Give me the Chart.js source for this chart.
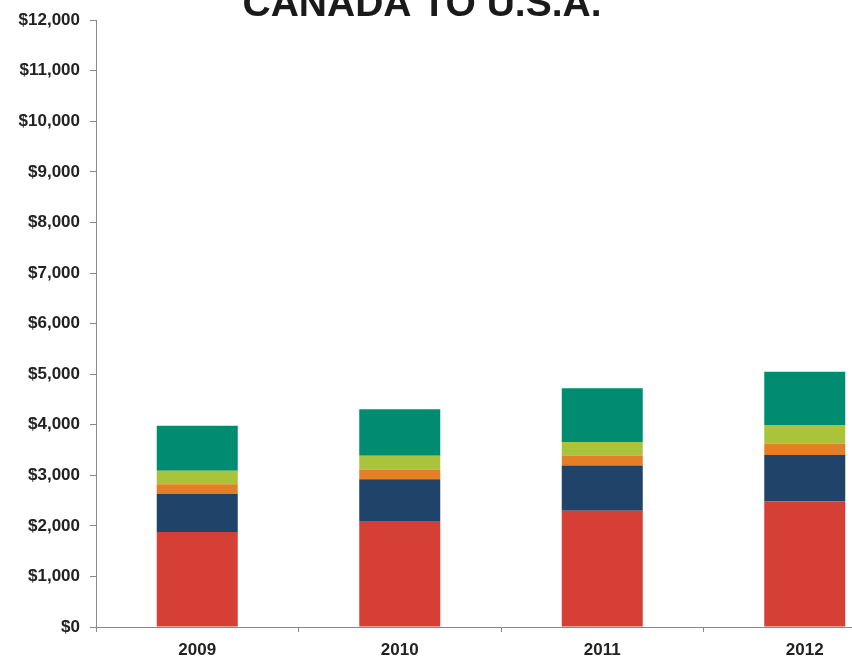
<!DOCTYPE html>
<html>
<head>
<meta charset="utf-8">
<script src="https://cdn.jsdelivr.net/npm/chart.js@4"></script>
<style>
  html, body { margin: 0; padding: 0; background: #fff; overflow: hidden; }
  #wrap { width: 852px; height: 660px; overflow: hidden; }
</style>
</head>
<body>
<div id="wrap"><canvas id="tradeChart" width="920" height="660"></canvas></div>
<script>
const years = ['2009', '2010', '2011', '2012'];
const seriesA = [1880, 2080, 2300, 2480];
const seriesB = [750, 840, 895, 920];
const seriesC = [195, 195, 195, 230];
const seriesD = [265, 270, 270, 365];
const seriesE = [890, 920, 1060, 1055];
const yTicks = [0, 1000, 2000, 3000, 4000, 5000, 6000, 7000, 8000, 9000, 10000, 11000, 12000];

const labelFont = { family: "'Liberation Sans', Arial, sans-serif", size: 17, weight: 'bold' };

// title sits partly above the canvas, as in the source image
const titlePlugin = {
    id: 'cutTitle',
    afterDraw(chart) {
        const ctx = chart.ctx;
        ctx.save();
        ctx.font = "bold 39px 'Liberation Sans', Arial, sans-serif";
        ctx.fillStyle = '#1a1a1a';
        ctx.textAlign = 'center';
        ctx.textBaseline = 'alphabetic';
        ctx.fillText('CANADA TO U.S.A.', 422, 16);
        ctx.restore();
    }
};

const tradeChart = new Chart(
    document.getElementById('tradeChart'),
    {
        type: 'bar',
        data: {
            labels: years,
            datasets: [
                { label: 'Series A', data: seriesA, backgroundColor: '#D63F35' },
                { label: 'Series B', data: seriesB, backgroundColor: '#1F4369' },
                { label: 'Series C', data: seriesC, backgroundColor: '#E57F27' },
                { label: 'Series D', data: seriesD, backgroundColor: '#A9C43B' },
                { label: 'Series E', data: seriesE, backgroundColor: '#008C70' }
            ]
        },
        options: {
            responsive: false,
            animation: false,
            barPercentage: 0.4,
            categoryPercentage: 1,
            layout: { padding: { top: 18, right: 14, bottom: 0, left: 0 } },
            plugins: { legend: { display: false }, title: { display: false }, tooltip: { enabled: false } },
            scales: {
                x: {
                    stacked: true,
                    afterFit: s => { s.height = 33; },
                    grid: { drawOnChartArea: false, color: '#888', tickLength: 5, offset: true },
                    border: { color: '#888', width: 1 },
                    ticks: { color: '#222', font: labelFont, padding: 8, maxRotation: 0 }
                },
                y: {
                    stacked: true,
                    min: 0,
                    max: 12000,
                    afterFit: s => { s.width = 96; },
                    afterBuildTicks: s => { s.ticks = yTicks.map(v => ({ value: v })); },
                    grid: { drawOnChartArea: false, color: '#888', tickLength: 6 },
                    border: { color: '#888', width: 1 },
                    ticks: {
                        color: '#222',
                        font: labelFont,
                        padding: 10,
                        callback: v => '$' + v.toLocaleString('en-US')
                    }
                }
            }
        },
        plugins: [titlePlugin]
    }
);
</script>
</body>
</html>
